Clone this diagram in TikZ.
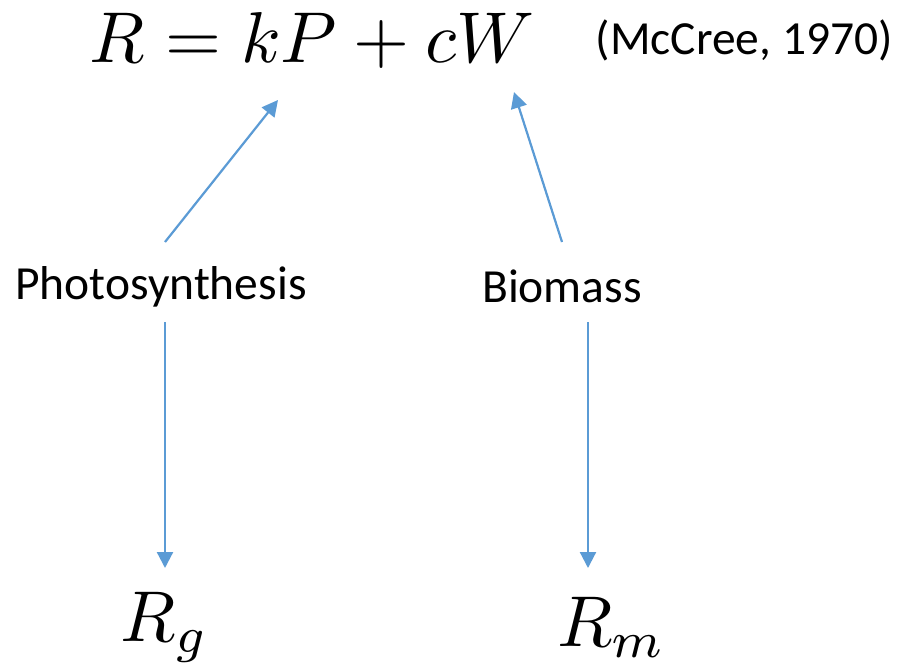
\documentclass[tikz,border=0pt]{standalone}
\usepackage{fontspec}
\setmainfont{Carlito}
\usetikzlibrary{arrows.meta}
\definecolor{arrowblue}{HTML}{5B9BD5}
\begin{document}
\begin{tikzpicture}[x=1pt,y=-1pt,
  lbl/.style={inner sep=0pt,font=\fontsize{47.5}{52}\selectfont},
  mathlbl/.style={inner sep=0pt,scale=7.2},
  conn/.style={draw=arrowblue,line width=2.2pt,-{Triangle[length=16pt,width=16pt]}}]
\useasboundingbox[fill=white] (0,0) rectangle (905,665);
\node[mathlbl] (eq) at (312,40) {$R = kP + cW$};
\node[lbl,anchor=east] (ref) at (893,40) {(McCree, 1970)};
\node[lbl] (photo) at (161,287) {Photosynthesis};
\node[lbl] (bio) at (562,286) {Biomass};
\node[mathlbl] (rg) at (165,627) {$R_g$};
\node[mathlbl] (rm) at (612,627) {$R_m$};
\coordinate (kp) at (278,100);
\coordinate (cw) at (514,92);
\coordinate (ps) at (165,242);
\coordinate (bs) at (562,242);
\coordinate (pd) at (165,322);
\coordinate (bd) at (588,322);
\coordinate (rgt) at (165,568);
\coordinate (rmt) at (588,568);
\draw[conn] (ps) -- (kp);
\draw[conn] (bs) -- (cw);
\draw[conn] (pd) -- (rgt);
\draw[conn] (bd) -- (rmt);
\end{tikzpicture}
\end{document}
